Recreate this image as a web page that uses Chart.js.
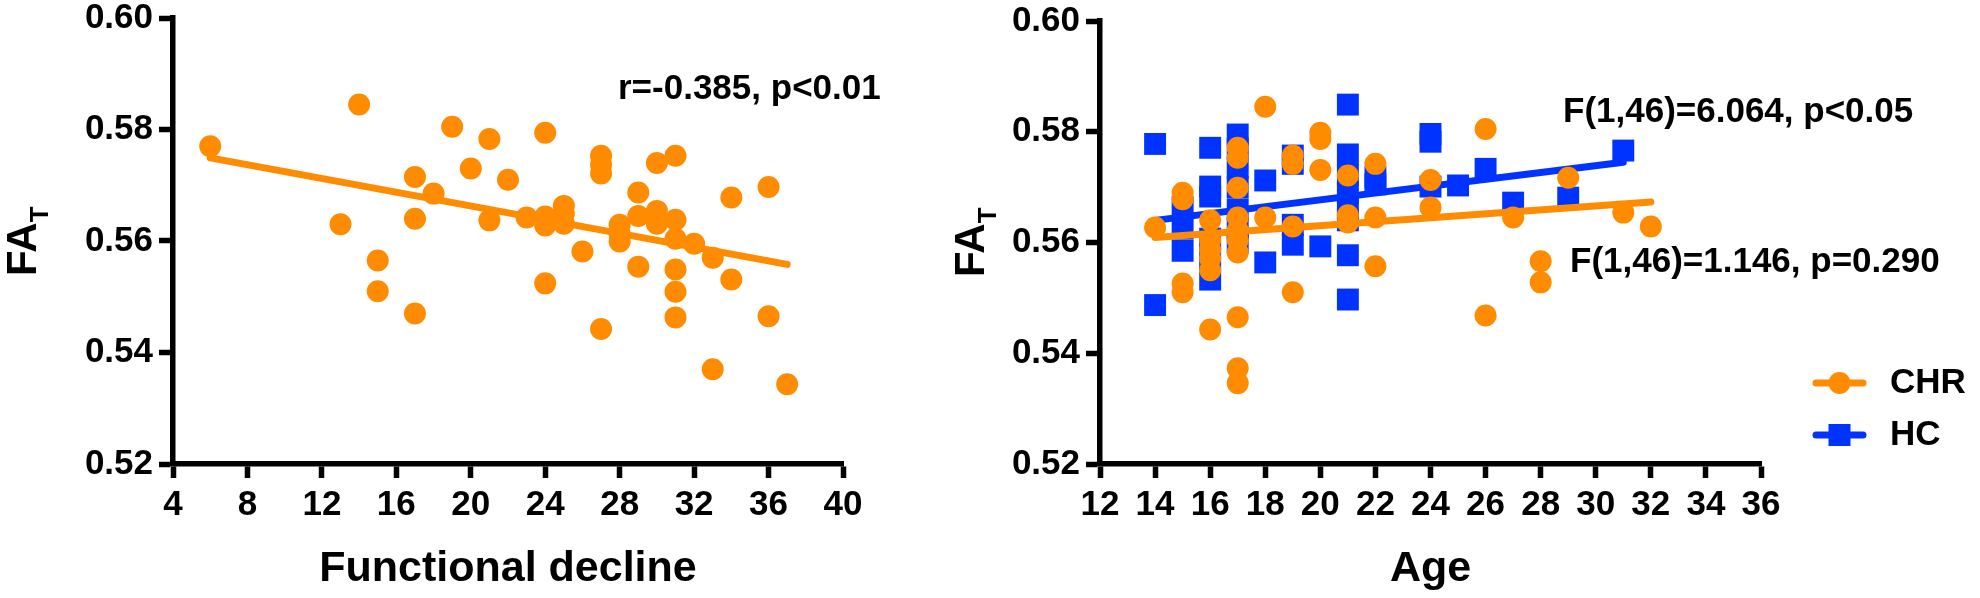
<!DOCTYPE html>
<html><head><meta charset="utf-8">
<script src="https://cdn.jsdelivr.net/npm/chart.js@4.4.1/dist/chart.umd.min.js"></script>
<style>
html,body{margin:0;padding:0;background:#fff;}
#wrap{position:relative;width:1980px;height:598px;overflow:hidden;background:#fff;}
#c1{position:absolute;left:0;top:0;}
#c2{position:absolute;left:900px;top:0;}
</style></head><body>
<div id="wrap"><canvas id="c1" width="900" height="598"></canvas><canvas id="c2" width="1080" height="598"></canvas></div>
<script>
// ---------- data ----------
const yTickValues = [0.52, 0.54, 0.56, 0.58, 0.60];
const yTickLabels = ['0.52', '0.54', '0.56', '0.58', '0.60'];
const leftXTicks = [4, 8, 12, 16, 20, 24, 28, 32, 36, 40];
const rightXTicks = [12, 14, 16, 18, 20, 22, 24, 26, 28, 30, 32, 34, 36];

// Left panel: FA_T vs Functional decline (CHR)
const fdX = [6,13,14,15,15,17,17,17,18,19,20,21,21,22,23,24,24,24,24,25,25,25,26,27,27,27,27,28,28,28,29,29,29,30,30,30,31,31,31,31,31,31,32,33,33,34,34,36,36,37];
const fdY = [0.577,0.563,0.5845,0.5565,0.551,0.5715,0.564,0.547,0.5685,0.5805,0.573,0.5783,0.5637,0.571,0.5642,0.5794,0.5644,0.5628,0.5524,0.5663,0.5649,0.5631,0.5581,0.5753,0.5737,0.5721,0.5442,0.5629,0.5613,0.5599,0.5687,0.5645,0.5554,0.574,0.5654,0.5631,0.5753,0.5638,0.5604,0.5549,0.5509,0.5463,0.5595,0.557,0.537,0.5678,0.5531,0.5697,0.5465,0.5343];
const fdFitX = [6, 37];
const fdFitY = [0.5749, 0.5558];

// Right panel: FA_T vs Age
const chrAge = [14,15,15,15,15,16,16,16,16,16,16,17,17,17,17,17,17,17,17,17,17,18,18,19,19,19,19,20,20,20,21,21,21,22,22,22,24,24,26,26,27,28,28,29,31,32];
const chrFA  = [0.5627,0.5690,0.5678,0.5526,0.5510,0.5640,0.5604,0.5587,0.5571,0.5550,0.5443,0.5771,0.5753,0.5699,0.5645,0.5622,0.5604,0.5582,0.5465,0.5373,0.5346,0.5845,0.5645,0.5757,0.5742,0.5629,0.5510,0.5798,0.5787,0.5731,0.5721,0.5649,0.5636,0.5742,0.5645,0.5557,0.5713,0.5663,0.5805,0.5468,0.5645,0.5566,0.5528,0.5717,0.5654,0.5629];
const hcAge = [14,14,15,15,15,16,16,16,16,16,16,17,17,17,17,17,17,17,18,18,19,19,19,19,20,21,21,21,21,21,21,21,21,22,22,24,24,24,25,26,27,29,31];
const hcFA  = [0.5778,0.5487,0.5664,0.5625,0.5585,0.5771,0.5701,0.5683,0.5607,0.5571,0.5533,0.5795,0.5770,0.5735,0.5700,0.5660,0.5625,0.5600,0.5712,0.5564,0.5757,0.5742,0.5632,0.5596,0.5593,0.5849,0.5759,0.5722,0.5690,0.5660,0.5640,0.5577,0.5497,0.5718,0.5705,0.5796,0.5782,0.5701,0.5703,0.5733,0.5672,0.5681,0.5766];
const chrFitX = [14, 32];
const chrFitY = [0.5609, 0.5673];
const hcFitX = [14, 31];
const hcFitY = [0.5640, 0.5745];

const seriesNames = ['CHR', 'HC'];
const leftXTitle = 'Functional decline';
const rightXTitle = 'Age';
const leftStat = 'r=-0.385, p<0.01';
const hcStat = 'F(1,46)=6.064, p<0.05';
const chrStat = 'F(1,46)=1.146, p=0.290';

// ---------- styles ----------
const FONT = "'Liberation Sans', Arial, Helvetica, sans-serif";
const ORANGE = '#FF8C00';
const BLUE = '#0033FF';
const AXW = 5.5;

function pts(xs, ys) { return xs.map((x, i) => ({x: x, y: ys[i]})); }

function yScale(width) {
  return {
    type: 'linear', min: 0.52, max: 0.60,
    afterBuildTicks: s => { s.ticks = yTickValues.map(v => ({value: v})); },
    ticks: { font: {family: FONT, size: 35, weight: 'bold'}, color: '#000', padding: 6,
             callback: (v, i) => yTickLabels[i] },
    grid: { drawOnChartArea: false, drawTicks: true, tickLength: 14, tickWidth: AXW, tickColor: '#000', color: '#000' },
    border: { display: true, color: '#000', width: AXW },
    afterFit: s => { s.width = width; s.paddingTop = 0; s.paddingBottom = 0; }
  };
}
function xScale(ticks, title) {
  return {
    type: 'linear', min: ticks[0], max: ticks[ticks.length - 1],
    afterBuildTicks: s => { s.ticks = ticks.map(v => ({value: v})); },
    ticks: { font: {family: FONT, size: 35, weight: 'bold'}, color: '#000', padding: 6,
             maxRotation: 0, autoSkip: false, callback: (v, i) => String(ticks[i]) },
    grid: { drawOnChartArea: false, drawTicks: true, tickLength: 14, tickWidth: AXW, tickColor: '#000', color: '#000' },
    border: { display: true, color: '#000', width: AXW },
    title: { display: true, text: title, color: '#000', font: {family: FONT, size: 43, weight: 'bold'}, padding: {top: 0, bottom: 3} },
    afterFit: s => { s.height = 134; s.paddingLeft = 0; s.paddingRight = 0; }
  };
}
function yTitlePlugin(baseX, startY) {
  return { id: 'ytitle', afterDraw(chart) {
    const ctx = chart.ctx; ctx.save();
    ctx.translate(baseX, startY); ctx.rotate(-Math.PI / 2);
    ctx.fillStyle = '#000'; ctx.textAlign = 'left'; ctx.textBaseline = 'alphabetic';
    ctx.font = 'bold 42px ' + FONT; ctx.fillText('FA', 0, 0);
    const w = ctx.measureText('FA').width;
    ctx.font = 'bold 26px ' + FONT; ctx.fillText('T', w, 12);
    ctx.restore();
  }};
}
function textPlugin(items) {
  return { id: 'stats', afterDraw(chart) {
    const ctx = chart.ctx; ctx.save();
    ctx.fillStyle = '#000'; ctx.textAlign = 'left'; ctx.textBaseline = 'alphabetic';
    ctx.font = 'bold 35px ' + FONT;
    items.forEach(it => ctx.fillText(it[0], it[1], it[2]));
    ctx.restore();
  }};
}
const legendPlugin = { id: 'customLegend', afterDraw(chart) {
  const ctx = chart.ctx; ctx.save();
  const x1 = 916, x2 = 963, cx = 939.5;
  const rows = [{y: 383, color: ORANGE, shape: 'circle', text: seriesNames[0]},
                {y: 435, color: BLUE, shape: 'square', text: seriesNames[1]}];
  rows.forEach(r => {
    ctx.strokeStyle = r.color; ctx.lineWidth = 7; ctx.lineCap = 'round';
    ctx.beginPath(); ctx.moveTo(x1, r.y); ctx.lineTo(x2, r.y); ctx.stroke();
    ctx.fillStyle = r.color;
    if (r.shape === 'circle') { ctx.beginPath(); ctx.arc(cx, r.y, 11, 0, Math.PI * 2); ctx.fill(); }
    else { ctx.fillRect(cx - 11, r.y - 11, 22, 22); }
    ctx.fillStyle = '#000'; ctx.font = 'bold 35px ' + FONT; ctx.textAlign = 'left'; ctx.textBaseline = 'middle';
    ctx.fillText(r.text, 990, r.y);
  });
  ctx.restore();
}};

const common = {
  responsive: false, animation: false, events: [],
  plugins: { legend: {display: false}, tooltip: {enabled: false} }
};

new Chart(document.getElementById('c1'), {
  type: 'scatter',
  data: { datasets: [
    { label: seriesNames[0], data: pts(fdX, fdY), pointStyle: 'circle', pointRadius: 11, pointHoverRadius: 11,
      backgroundColor: ORANGE, borderColor: ORANGE, borderWidth: 0 },
    { type: 'line', label: 'fit', data: pts(fdFitX, fdFitY), showLine: true, borderColor: ORANGE, borderWidth: 7,
      pointRadius: 0, fill: false, borderCapStyle: 'round', tension: 0 }
  ]},
  options: Object.assign({}, common, {
    layout: { padding: {left: 0, right: 57, top: 18, bottom: 0} },
    scales: { x: xScale(leftXTicks, leftXTitle), y: yScale(173) }
  }),
  plugins: [yTitlePlugin(36, 276), textPlugin([[leftStat, 618, 99]])]
});

new Chart(document.getElementById('c2'), {
  type: 'scatter',
  data: { datasets: [
    { label: seriesNames[0], data: pts(chrAge, chrFA), pointStyle: 'circle', pointRadius: 11, pointHoverRadius: 11,
      backgroundColor: ORANGE, borderColor: ORANGE, borderWidth: 0 },
    { type: 'line', label: 'CHR fit', data: pts(chrFitX, chrFitY), showLine: true, borderColor: ORANGE, borderWidth: 7,
      pointRadius: 0, fill: false, borderCapStyle: 'round', tension: 0 },
    { type: 'line', label: 'HC fit', data: pts(hcFitX, hcFitY), showLine: true, borderColor: BLUE, borderWidth: 7,
      pointRadius: 0, fill: false, borderCapStyle: 'round', tension: 0 },
    { label: seriesNames[1], data: pts(hcAge, hcFA), pointStyle: 'rect', pointRadius: 15.5, pointHoverRadius: 15.5,
      backgroundColor: BLUE, borderColor: BLUE, borderWidth: 0 }
  ]},
  options: Object.assign({}, common, {
    layout: { padding: {left: 0, right: 219, top: 21, bottom: 0} },
    scales: { x: xScale(rightXTicks, rightXTitle), y: yScale(200) }
  }),
  plugins: [yTitlePlugin(84, 277), textPlugin([[hcStat, 663, 122], [chrStat, 670, 272]]), legendPlugin]
});
</script>
</body></html>
